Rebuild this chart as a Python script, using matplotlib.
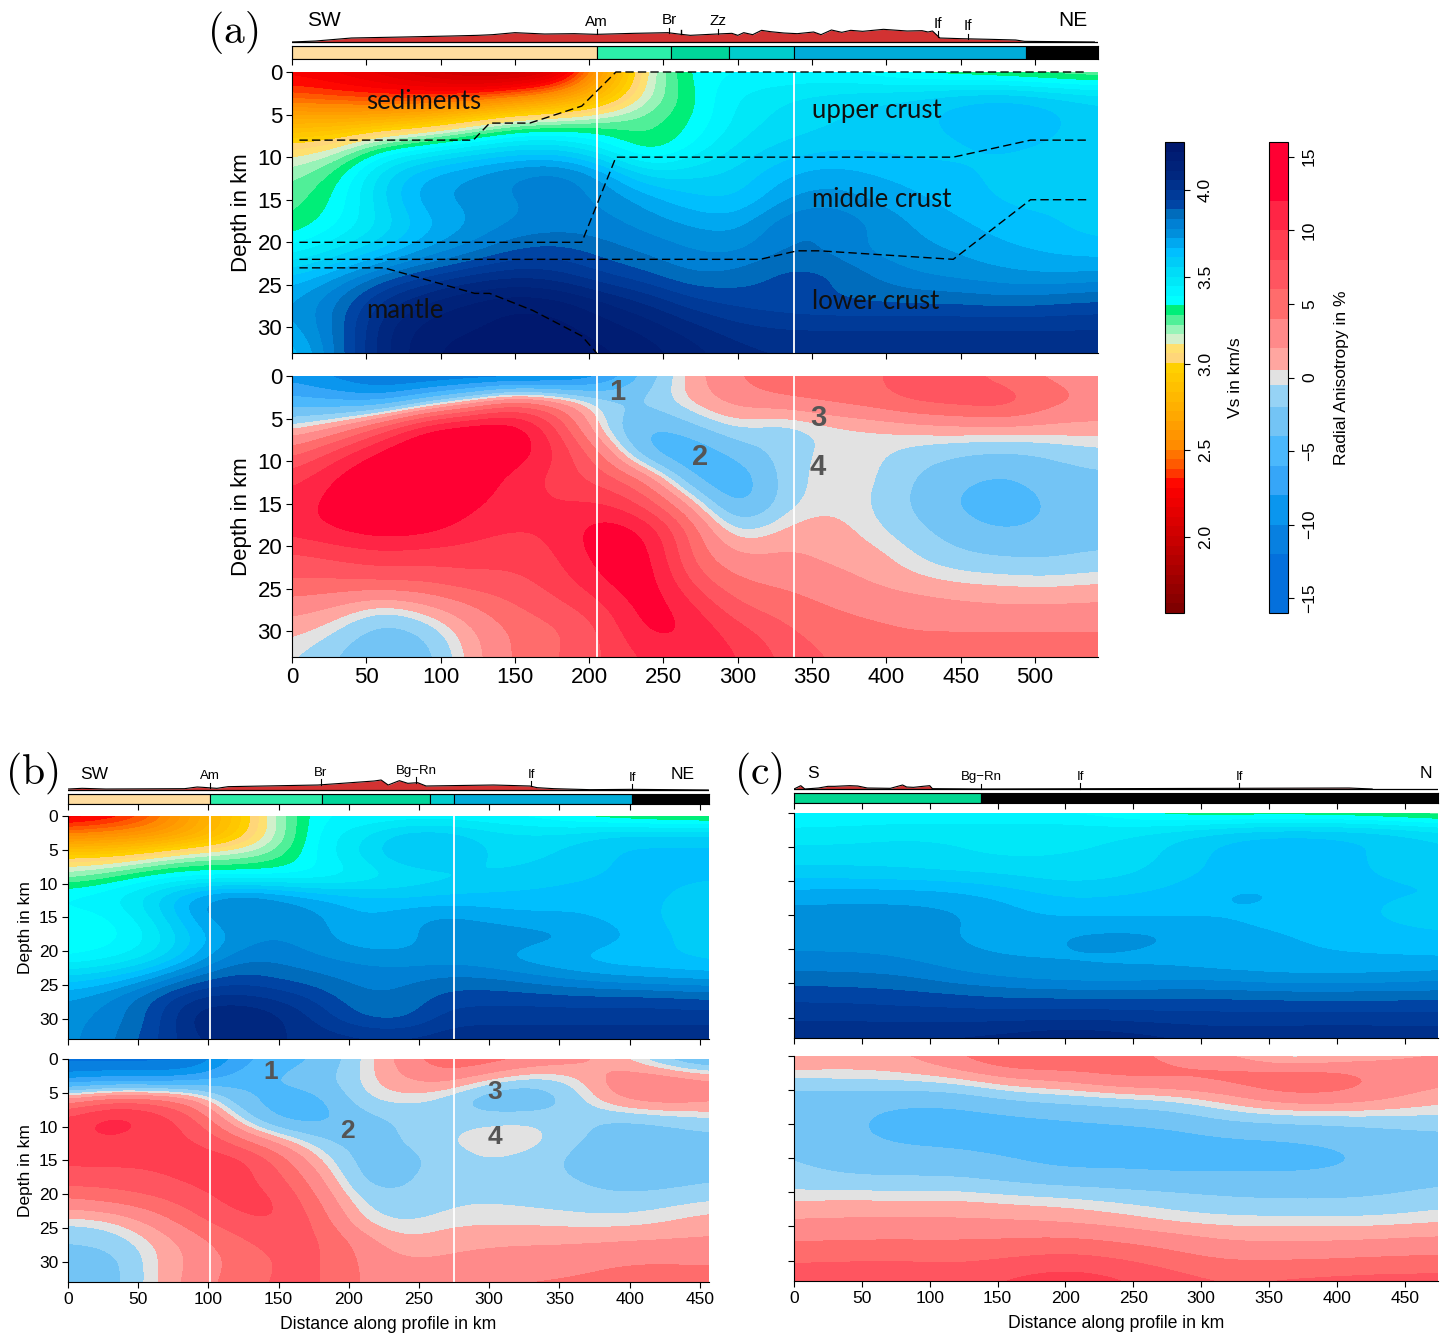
# seismic profiles: Vs and radial anisotropy sections
import matplotlib
matplotlib.use('Agg')
import matplotlib.pyplot as plt
import numpy as np
from matplotlib.colors import ListedColormap, BoundaryNorm, to_rgb
from matplotlib.cm import ScalarMappable

plt.rcParams['font.family'] = ['Liberation Sans', 'DejaVu Sans']
plt.rcParams['mathtext.fontset'] = 'cm'
plt.rcParams['axes.unicode_minus'] = True

W, H = 1445, 1333

depths = [0, 3, 6, 9, 12, 15, 18, 21, 24, 27, 30, 33]
dist_a = list(range(0, 541, 30))
dist_b = list(range(0, 481, 30))
dist_c = list(range(0, 481, 40))

vs_a = [
    [2.25, 2.20, 2.12, 2.02, 1.92, 1.92, 2.02, 2.65, 3.15, 3.38, 3.38, 3.38, 3.38, 3.34, 3.28, 3.25, 3.22, 3.20, 3.18],
    [2.40, 2.36, 2.33, 2.33, 2.36, 2.45, 2.60, 2.85, 3.16, 3.33, 3.46, 3.50, 3.53, 3.55, 3.58, 3.62, 3.64, 3.60, 3.56],
    [2.78, 2.78, 2.82, 2.90, 3.05, 3.22, 3.24, 3.26, 3.27, 3.33, 3.47, 3.52, 3.55, 3.58, 3.60, 3.64, 3.68, 3.64, 3.58],
    [3.05, 3.12, 3.34, 3.42, 3.50, 3.55, 3.55, 3.42, 3.25, 3.40, 3.52, 3.57, 3.60, 3.60, 3.59, 3.60, 3.62, 3.60, 3.58],
    [3.20, 3.30, 3.55, 3.68, 3.74, 3.80, 3.84, 3.72, 3.52, 3.55, 3.57, 3.66, 3.70, 3.67, 3.64, 3.62, 3.60, 3.58, 3.58],
    [3.25, 3.34, 3.55, 3.72, 3.74, 3.78, 3.80, 3.78, 3.70, 3.62, 3.60, 3.72, 3.76, 3.72, 3.68, 3.64, 3.60, 3.60, 3.62],
    [3.28, 3.38, 3.50, 3.64, 3.72, 3.78, 3.80, 3.80, 3.76, 3.72, 3.70, 3.83, 3.86, 3.78, 3.72, 3.68, 3.64, 3.62, 3.58],
    [3.40, 3.50, 3.60, 3.72, 3.80, 3.90, 3.92, 3.86, 3.82, 3.78, 3.76, 3.84, 3.82, 3.76, 3.74, 3.72, 3.68, 3.66, 3.64],
    [3.62, 3.72, 3.86, 3.95, 4.02, 4.05, 4.02, 3.95, 3.90, 3.83, 3.86, 3.92, 3.92, 3.84, 3.78, 3.76, 3.74, 3.72, 3.74],
    [3.72, 3.84, 4.02, 4.12, 4.18, 4.22, 4.20, 4.12, 4.05, 3.96, 3.92, 3.90, 3.88, 3.88, 3.88, 3.88, 3.86, 3.88, 3.90],
    [3.70, 3.84, 4.10, 4.20, 4.22, 4.25, 4.25, 4.20, 4.15, 4.08, 4.02, 4.00, 4.00, 4.00, 4.00, 4.00, 4.00, 4.00, 4.00],
    [3.60, 3.84, 4.10, 4.22, 4.25, 4.25, 4.25, 4.24, 4.20, 4.14, 4.08, 4.06, 4.06, 4.06, 4.06, 4.06, 4.06, 4.06, 4.06],
]
ra_a = [
    [-9, -11, -13, -13, -13, -13, -12.5, -9, -3, 1.5, 4, 6, 6, 5.5, 7, 7, 4.5, 3.5, 3],
    [-5, -6, -7, -3, 1, 6, 3.5, -1, -1.5, 1.2, 3, 3.5, 4.5, 5.5, 7, 7.5, 8.5, 5, 4],
    [-0.3, 2, 7, 13, 14.5, 14.5, 8, -1.5, -5, -2.5, 0, -1.8, -0.2, 0.2, 1, 1.5, 1.6, 1.5, 1.3],
    [5, 9, 13, 15, 15, 14, 10, 4, -5.5, -6.5, -3, -1.3, 0, -0.1, -1.1, -1.9, -2.3, -1.8, -0.9],
    [9, 12.5, 15, 15, 14, 11, 9, 7, 4, -5, -6.5, -1, 0, 0, -2.2, -3.6, -4.5, -3, -2.5],
    [11, 13, 15, 15, 12.5, 11, 10, 10.5, 7, 1.5, -6, -1, 0.2, -0.4, -2.4, -4.5, -5.5, -3.8, -3],
    [11, 12.5, 13.5, 13, 11, 10, 10.5, 14, 12, 5, -1.5, 0.8, 1.5, -0.2, -1.5, -3.2, -4.3, -3.5, -3],
    [7.5, 8.5, 9.5, 9, 9, 8.5, 10, 13.5, 13.5, 5, 1.8, 2.5, 1.5, 1.2, -0.6, -1.8, -2.2, -2.4, -1.8],
    [6, 6, 6.5, 6.5, 7.5, 7.5, 9, 12.3, 14, 7, 4, 3.5, 2.8, 1.8, 0.8, 0.2, 0, -0.2, 0.2],
    [3, 2, -0.3, 1.5, 3.8, 6, 7.5, 9.5, 14, 10.5, 6, 5, 4, 3.4, 3, 2.5, 2.2, 2.2, 2.4],
    [1, -0.5, -3.2, -2, 1.5, 4.5, 5.5, 8, 13, 12, 9, 6.5, 5, 4.5, 4, 4, 3.8, 4, 4],
    [-0.3, -2, -4.2, -3, 1, 4.5, 6, 8, 10.5, 11, 10.5, 7.5, 6, 5, 5, 5.5, 6, 5.7, 5.5],
]
vs_b = [
    [2.20, 2.25, 2.40, 2.70, 2.90, 3.20, 3.40, 3.38, 3.38, 3.38, 3.38, 3.36, 3.30, 3.25, 3.22, 3.20, 3.20],
    [2.50, 2.55, 2.60, 2.72, 2.92, 3.18, 3.42, 3.50, 3.62, 3.62, 3.54, 3.52, 3.54, 3.60, 3.60, 3.60, 3.60],
    [3.00, 3.00, 3.10, 3.20, 3.20, 3.25, 3.42, 3.52, 3.63, 3.62, 3.55, 3.54, 3.58, 3.62, 3.63, 3.63, 3.63],
    [3.20, 3.28, 3.36, 3.38, 3.38, 3.38, 3.38, 3.44, 3.50, 3.53, 3.55, 3.58, 3.60, 3.62, 3.62, 3.62, 3.62],
    [3.42, 3.45, 3.55, 3.72, 3.80, 3.74, 3.67, 3.62, 3.60, 3.62, 3.63, 3.63, 3.64, 3.64, 3.62, 3.60, 3.58],
    [3.36, 3.38, 3.50, 3.70, 3.80, 3.78, 3.74, 3.67, 3.72, 3.74, 3.70, 3.68, 3.68, 3.65, 3.62, 3.55, 3.52],
    [3.33, 3.36, 3.44, 3.62, 3.74, 3.78, 3.74, 3.67, 3.69, 3.78, 3.78, 3.76, 3.74, 3.69, 3.64, 3.58, 3.54],
    [3.38, 3.42, 3.50, 3.66, 3.82, 3.82, 3.78, 3.76, 3.74, 3.74, 3.72, 3.68, 3.65, 3.62, 3.62, 3.60, 3.58],
    [3.58, 3.62, 3.72, 3.86, 3.92, 3.88, 3.85, 3.81, 3.82, 3.85, 3.84, 3.80, 3.76, 3.73, 3.71, 3.70, 3.70],
    [3.72, 3.78, 3.90, 4.02, 4.03, 4.00, 3.93, 3.84, 3.85, 3.92, 3.93, 3.93, 3.92, 3.92, 3.92, 3.90, 3.90],
    [3.76, 3.80, 3.90, 4.10, 4.14, 4.08, 3.98, 3.88, 3.86, 3.98, 3.98, 3.98, 3.98, 3.98, 3.98, 3.98, 3.98],
    [3.76, 3.82, 3.93, 4.05, 4.10, 4.06, 4.04, 4.02, 4.02, 4.04, 4.05, 4.05, 4.05, 4.05, 4.05, 4.05, 4.05],
]
ra_b = [
    [-13, -13, -13, -13, -7, -5, -4, -0.3, 3, 6, 5.5, 4, 3, 1, -2, -5, -5],
    [-9, -8, -8.5, -7, -5, -3.5, -2.5, -0.2, 2.3, 3, 0.5, -1.2, -0.3, 3.5, 4, 3, 2.5],
    [3, 6, 6, 3, -3.5, -5.2, -5, -0.3, 0, -1.3, -4.2, -4.2, -1.5, 2.2, 3.5, 3, 2.5],
    [9, 12, 10, 7, 0, -5, -5, -3, -1.7, -1.2, -0.7, -0.4, -1.5, -2.5, -2, -1.2, -1],
    [9, 10, 8.5, 8.5, 5, 1.5, -1.8, -3, -1.8, -0.35, 0.4, 0.4, -1.5, -3, -3, -2.6, -2.5],
    [8.5, 8.5, 8.5, 9, 9.5, 5.5, 0.5, -3, -3, -1.2, -0.6, -1.1, -2.5, -4.8, -3, -3, -3],
    [7, 7, 7.5, 8.5, 9, 7, 2.5, -2.8, -2.5, -0.45, -0.45, -1.2, -1.8, -3, -3, -2.4, -2],
    [3.5, 4.5, 5.5, 7, 9, 8.5, 4, -1, -1.5, -0.8, -0.7, -0.8, -1, -1.3, -1, -0.5, -0.2],
    [-0.3, 0, 2.5, 5.5, 7.5, 8.5, 5.5, 0, -0.8, 0, 0.2, 0.1, -0.1, -0.2, 0.2, 1, 1.2],
    [-2, -1.5, 0.3, 3, 5.5, 7, 6.5, 3, 0.6, 1.5, 1.8, 1.8, 1.8, 2, 2.2, 2.3, 2.4],
    [-3, -3, 0.2, 2.5, 4.5, 6.3, 6.5, 3.5, 2.2, 2.3, 2.6, 3, 3.4, 4, 4.2, 4, 4],
    [-3, -3, 0.2, 3, 5, 6.5, 6.5, 3.5, 3, 3.5, 4, 4.2, 4.3, 4.5, 4.5, 4.5, 4.5],
]
vs_c = [
    [3.38, 3.38, 3.38, 3.38, 3.38, 3.38, 3.33, 3.27, 3.25, 3.25, 3.24, 3.22, 3.20],
    [3.47, 3.48, 3.50, 3.50, 3.50, 3.50, 3.50, 3.54, 3.60, 3.63, 3.63, 3.60, 3.54],
    [3.52, 3.52, 3.52, 3.50, 3.48, 3.50, 3.50, 3.58, 3.64, 3.67, 3.63, 3.60, 3.56],
    [3.58, 3.58, 3.57, 3.56, 3.55, 3.52, 3.54, 3.59, 3.63, 3.63, 3.62, 3.61, 3.60],
    [3.70, 3.705, 3.705, 3.69, 3.645, 3.60, 3.615, 3.63, 3.69, 3.68, 3.63, 3.62, 3.62],
    [3.75, 3.75, 3.75, 3.74, 3.69, 3.655, 3.655, 3.655, 3.66, 3.65, 3.63, 3.60, 3.58],
    [3.76, 3.76, 3.76, 3.72, 3.69, 3.74, 3.755, 3.74, 3.685, 3.675, 3.655, 3.63, 3.62],
    [3.78, 3.78, 3.77, 3.74, 3.72, 3.715, 3.715, 3.70, 3.68, 3.68, 3.67, 3.67, 3.66],
    [3.855, 3.85, 3.84, 3.79, 3.76, 3.74, 3.73, 3.75, 3.74, 3.72, 3.72, 3.73, 3.75],
    [3.935, 3.93, 3.92, 3.91, 3.89, 3.89, 3.89, 3.89, 3.89, 3.88, 3.88, 3.88, 3.88],
    [3.985, 3.99, 3.98, 3.98, 3.98, 3.985, 3.98, 3.97, 3.97, 3.97, 3.97, 3.97, 3.97],
    [4.07, 4.06, 4.06, 4.07, 4.09, 4.12, 4.10, 4.07, 4.04, 4.05, 4.06, 4.05, 4.05],
]
ra_c = [
    [2.2, 1.5, 1.8, 4, 7, 6.5, 5, 3, 2, -1.5, 0, 1.5, 2],
    [-0.2, 0, 0.3, 0.8, 2.5, 3, 5, 5, 5.5, 6.5, 6, 3.5, 2.8],
    [-3, -3, -3.2, -3, -1.5, -1, -0.5, 0, 1.5, 3.8, 3.8, 2.5, 1],
    [-3, -3.5, -5, -5, -4.5, -4, -3.5, -3, -1.5, -1.2, -1, -0.8, -0.8],
    [-2.7, -3.8, -4.3, -4.5, -5, -5, -5, -4.8, -4.2, -4, -3.5, -3, -2.5],
    [-1.8, -3, -3.5, -3.5, -4, -5, -4.8, -5, -5, -5, -4.5, -3.5, -3],
    [-1.5, -1.8, -1.8, -1.8, -2.5, -3, -3.2, -3.5, -3.5, -3.5, -3.5, -3, -2.5],
    [0.4, 0.5, 0.4, 0.5, 0, -0.2, -0.8, -1.2, -1.8, -2, -2, -1.7, -1],
    [2, 2.2, 2.2, 2.2, 2, 1.6, 1, 0, -0.2, -0.2, -0.3, -0.2, 0.2],
    [3.8, 4, 4, 4, 4.2, 4.5, 3.8, 3, 1.9, 1.9, 1.9, 2.2, 2.5],
    [6, 6, 6.2, 5.8, 6.3, 7, 6.3, 5, 4, 4, 4.2, 4.5, 4.6],
    [7, 7.5, 7.2, 7.2, 8.5, 9.5, 8.5, 7, 6, 6.5, 6.8, 7, 7],
]

# relief above the profile
topo_a_km = [0, 16, 40, 75, 107, 125, 135, 150, 170, 190, 205, 230, 253, 260, 268, 286, 296, 300, 304, 310, 316, 322, 331, 340, 351, 356, 363, 370, 376, 384, 398, 414, 424, 428, 431, 436, 450, 470, 487, 493, 540]
topo_a = [0, 3, 12, 15, 18, 20, 22, 28, 24, 25, 23, 26, 28, 24, 20, 24, 26, 20, 28, 22, 35, 31, 27, 25, 30, 22, 36, 29, 35, 32, 38, 33, 34, 30, 33, 12, 10, 8, 6, 2, 0]
topo_b_km = [0, 10, 27, 83, 92, 96, 106, 114, 178, 195, 218, 223, 228, 236, 242, 249, 255, 303, 329, 334, 346, 372, 402, 456]
topo_b = [3, 5, 3, 4, 9, 8, 5, 10, 15, 20, 27, 30, 15, 28, 20, 22, 12, 15, 12, 7, 4, 1, 2, 0]
topo_c_km = [0, 5, 8, 18, 25, 30, 35, 41, 47, 54, 71, 80, 83, 88, 95, 100, 102, 140, 409, 426]
topo_c = [0, 10, 0, 3, 8, 8, 9, 10, 9, 3, 2, 12, 6, 5, 8, 10, 1, 0, 3, 0]

# terrane bars: edges and colours
bar_a_edges = [0, 205, 255, 294, 338, 494, 543]
bar_b_edges = [0, 101, 181, 258, 275, 402, 457]
bar_c_edges = [0, 138, 475]
bar_a_colors = ['#FFDDA0', '#2CEEAA', '#00D69A', '#00CDCD', '#00ACD8', 'black']
bar_b_colors = ['#FFDDA0', '#2CEEAA', '#00D69A', '#00CDCD', '#00ACD8', 'black']
bar_c_colors = ['#00D690', 'black']

stations_a = [('Am', 205), ('Br', 254), ('', 262), ('Zz', 287), ('If', 435), ('If', 455)]
stations_b = [('Am', 101), ('Br', 180), ('Bg\u2212Rn', 248), ('If', 330), ('If', 402)]
stations_c = [('Bg\u2212Rn', 138), ('If', 211), ('If', 328)]

# boundaries drawn on the Vs section of (a)
line1_km = [5, 122, 133, 160, 195, 218, 535]
line1_d = [8, 8, 6, 6, 4, 0, 0]
line2_km = [5, 195, 218, 445, 497, 535]
line2_d = [20, 20, 10, 10, 8, 8]
line3_km = [5, 315, 340, 355, 445, 497, 535]
line3_d = [22, 22, 21, 21, 22, 15, 15]
line4_km = [5, 62, 123, 133, 162, 195, 205]
line4_d = [23, 23, 26, 26, 28, 31, 33]

# colour scales
vs_step = 0.0555
vs_levels = 1.56 + vs_step * np.arange(50)
vs_anchor_v = [1.56, 2.0, 2.30, 2.36, 2.41, 2.47, 2.53, 2.70, 2.975, 3.03, 3.086, 3.14, 3.197, 3.25, 3.308,
               3.364, 3.42, 3.475, 3.53, 3.586, 3.64, 3.697, 3.75, 3.808, 3.864, 3.92, 3.975, 4.086, 4.253]
vs_anchor_c = ['#7A0000', '#CC0000', '#FF0000', '#FF3300', '#FF5500', '#FF7000', '#FF8C00', '#FFA800', '#FFD000',
               '#FFD67A', '#FFE070', '#D4F0CC', '#98F4B8', '#55F09A', '#00EE78',
               '#00FFFF', '#00F4FF', '#00E8F8', '#00DCF8', '#00CCF8', '#00C0FF', '#00A8F0', '#0090DC', '#0080D4',
               '#006CBC', '#0044A4', '#003A98', '#00277F', '#00186E']
mids = (vs_levels[:-1] + vs_levels[1:]) / 2
rgb = np.array([to_rgb(c) for c in vs_anchor_c])
vs_colors = np.column_stack([np.interp(mids, vs_anchor_v, rgb[:, i]) for i in range(3)])
vs_cmap = ListedColormap(vs_colors)
vs_norm = BoundaryNorm(vs_levels, vs_cmap.N)

ra_levels = [-16, -12, -10, -8, -6, -4, -2, -0.5, 0.5, 2, 4, 6, 8, 10, 12, 16]
ra_colors = ['#0470DC', '#0880E0', '#0A96EE', '#36A6F8', '#4BB8FC', '#73C4F5', '#96D3F5', '#E2E2E2',
             '#FFA6A0', '#FF8A8A', '#FF6C6C', '#FF5560', '#FF3E50', '#FF2545', '#FF0033']
ra_cmap = ListedColormap(ra_colors)
ra_norm = BoundaryNorm(ra_levels, ra_cmap.N)


def px_axes(x0, y0, x1, y1):
    # axes from pixel box, y counted from the top
    return fig.add_axes([x0 / W, 1 - y1 / H, (x1 - x0) / W, (y1 - y0) / H])


def section(box, dist, z, cmap, norm, xmax, fs, whites, xlabels=False, ylabels=True, xlabel=None):
    ax = px_axes(*box)
    dx = dist[1] - dist[0]
    ax.imshow(np.array(z, dtype=float), cmap=cmap, norm=norm, aspect='auto',
              extent=(dist[0] - dx / 2, dist[-1] + dx / 2, 34.5, -1.5),
              interpolation='bicubic', interpolation_stage='data')
    ax.set_xlim(0, xmax)
    ax.set_ylim(33, 0)
    ax.set_xticks(range(0, int(xmax) + 1, 50))
    ax.set_yticks(range(0, 31, 5))
    ax.tick_params(length=4, width=0.8, labelsize=fs, pad=3,
                   labelbottom=xlabels, labelleft=ylabels)
    for s in ['top', 'right']:
        ax.spines[s].set_visible(False)
    for x in whites:
        ax.axvline(x, color='white', lw=1.3)
    if ylabels:
        ax.set_ylabel('Depth in km', fontsize=fs, labelpad=4)
    if xlabel:
        ax.set_xlabel(xlabel, fontsize=fs + 0.2, labelpad=7)
    return ax


def header(topo_box, bar_box, xmax, km, h, stations, edges, colors, left, right, fs, st_fs):
    ax = px_axes(*topo_box)
    ax.set_xlim(0, xmax)
    # one unit is a third of a pixel, zero sits 2 px above the box bottom
    ax.set_ylim(-6, (topo_box[3] - topo_box[1]) * 3 - 6)
    ax.axis('off')
    ax.fill_between(km, 0, h, color='#D23232', lw=0)
    ax.plot(km, h, color='black', lw=0.8)
    ax.plot([0, xmax], [0, 0], color='black', lw=0.9)
    for name, x in stations:
        top = np.interp(x, km, h)
        if name == '':
            ax.plot([x, x], [top, top + 12], color='black', lw=1)
        else:
            ax.plot([x, x], [top, top + 16], color='black', lw=0.8)
            ax.text(x, top + 17, name, ha='center', va='bottom', fontsize=st_fs)
    ax.text(left[0], left[1], left[2], ha='left', va='center', fontsize=fs)
    ax.text(right[0], right[1], right[2], ha='right', va='center', fontsize=fs)

    bar = px_axes(*bar_box)
    bar.set_xlim(0, xmax)
    bar.set_ylim(0, 1)
    for i, c in enumerate(colors):
        bar.barh(0.5, edges[i + 1] - edges[i], left=edges[i], height=1, color=c,
                 edgecolor='black', lw=0.8)
    bar.set_yticks([])
    bar.set_xticks(range(0, int(xmax) + 1, 50))
    bar.tick_params(length=4, width=0.8, labelbottom=False)


fig = plt.figure(figsize=(W / 100, H / 100), dpi=100)

# panel a
xa = 542.4
fs_a = 16
va_ax = section((292, 72, 1098, 353), dist_a, vs_a, vs_cmap, vs_norm, xa, fs_a, [205, 338])
ra_ax = section((292, 376, 1098, 657), dist_a, ra_a, ra_cmap, ra_norm, xa, fs_a, [205, 338], xlabels=True)
header((292, 8, 1098, 44), (292, 46, 1098, 59), xa, topo_a_km, topo_a, stations_a, bar_a_edges, bar_a_colors,
       (10, 63, 'SW'), (535, 63, 'NE'), 15, 11)
for xs, ys in [(line1_km, line1_d), (line2_km, line2_d), (line3_km, line3_d), (line4_km, line4_d)]:
    va_ax.plot(xs, ys, color='black', lw=1, dashes=(6, 3), clip_on=False)
for txt, x, y in [('sediments', 50, 3.5), ('upper crust', 350, 4.5), ('middle crust', 350, 15),
                  ('lower crust', 350, 27), ('mantle', 50, 28)]:
    va_ax.text(x, y, txt, family='Lato', fontsize=18.5, ha='left', va='center', color='#101010')
for txt, x, y in [('1', 219, 1.9), ('2', 274.5, 9.5), ('3', 354, 4.9), ('4', 354, 10.7)]:
    ra_ax.text(x, y, txt, fontsize=21, fontweight='bold', color='#555555', ha='center', va='center')

# panel b
xb = 456.5
fs_b = 12.5
vb_ax = section((68, 816, 709, 1039), dist_b, vs_b, vs_cmap, vs_norm, xb, fs_b, [101, 275])
rb_ax = section((68, 1059, 709, 1282), dist_b, ra_b, ra_cmap, ra_norm, xb, fs_b, [101, 275], xlabels=True,
                xlabel='Distance along profile in km')
header((68, 760, 709, 792), (68, 794, 709, 804), xb, topo_b_km, topo_b, stations_b, bar_b_edges, bar_b_colors,
       (9, 48, 'SW'), (446, 48, 'NE'), 12.5, 9.5)
for txt, x, y in [('1', 144.5, 1.9), ('2', 199, 10.6), ('3', 304, 4.9), ('4', 304, 11.6)]:
    rb_ax.text(x, y, txt, fontsize=19, fontweight='bold', color='#555555', ha='center', va='center')

# panel c
xc = 474.5
section((794, 813, 1438, 1038), dist_c, vs_c, vs_cmap, vs_norm, xc, fs_b, [], ylabels=False)
section((794, 1056, 1438, 1281), dist_c, ra_c, ra_cmap, ra_norm, xc, fs_b, [], xlabels=True, ylabels=False,
        xlabel='Distance along profile in km')
header((794, 760, 1438, 791), (794, 793, 1438, 803), xc, topo_c_km, topo_c, stations_c, bar_c_edges, bar_c_colors,
       (10, 48, 'S'), (470, 48, 'N'), 12.5, 9.5)

# colour bars
cax1 = px_axes(1165, 142, 1184, 613)
cb1 = fig.colorbar(ScalarMappable(norm=vs_norm, cmap=vs_cmap), cax=cax1, spacing='proportional',
                   ticks=[2.0, 2.5, 3.0, 3.5, 4.0])
cb1.ax.set_yticklabels(['2.0', '2.5', '3.0', '3.5', '4.0'], rotation=90, va='center', fontsize=12.5)
cb1.ax.tick_params(length=4, width=0.8, pad=6)
cb1.set_label('Vs in km/s', fontsize=12.5, rotation=90, labelpad=11)
cb1.minorticks_off()

cax2 = px_axes(1269, 142, 1288, 613)
cb2 = fig.colorbar(ScalarMappable(norm=ra_norm, cmap=ra_cmap), cax=cax2, spacing='proportional',
                   ticks=[-15, -10, -5, 0, 5, 10, 15])
cb2.ax.set_yticklabels(['\u221215', '\u221210', '\u22125', '0', '5', '10', '15'], rotation=90, va='center', fontsize=12.5)
cb2.ax.tick_params(length=4, width=0.8, pad=6)
cb2.set_label('Radial Anisotropy in %', fontsize=12.5, rotation=90, labelpad=12)
cb2.minorticks_off()

# panel letters
for txt, x, y in [('a', 233, 33), ('b', 32, 773), ('c', 758, 773)]:
    fig.text(x / W, 1 - y / H, r'$\mathrm{(' + txt + r')}$', fontsize=30, ha='center', va='center')

fig.savefig('out.png', dpi=100)
